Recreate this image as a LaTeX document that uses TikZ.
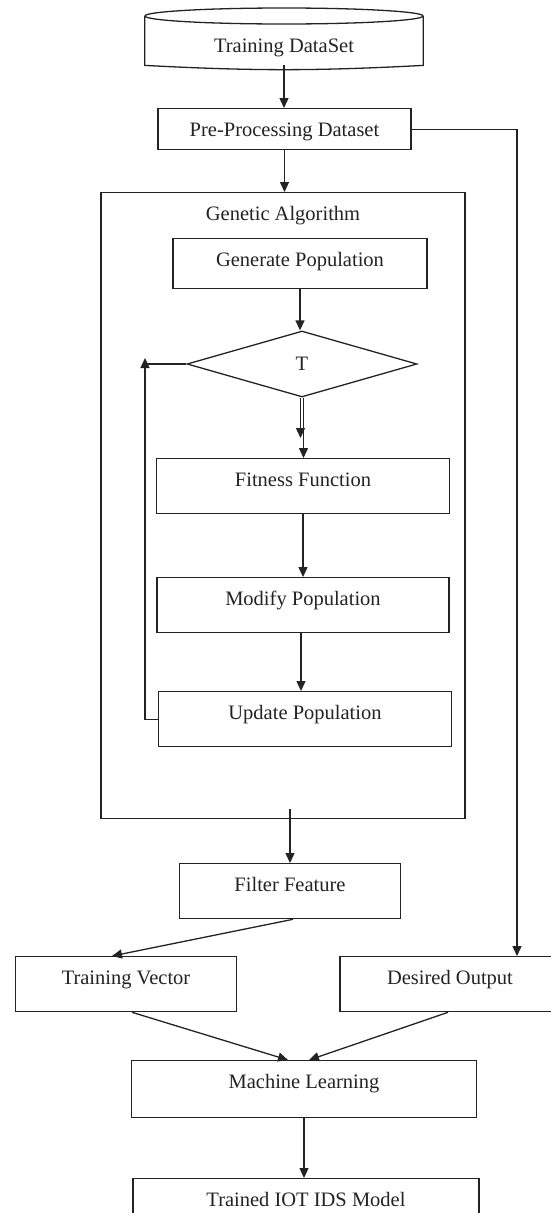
\documentclass[tikz,border=0pt]{standalone}
\usepackage{fontspec}
\setmainfont{Liberation Serif}
\usepackage{xcolor}
\usepackage{tikz}
\usetikzlibrary{arrows.meta, positioning, calc, shapes.geometric}
\definecolor{InkGray}{RGB}{35, 35, 35}

\tikzset{
  flowbox/.style={draw=InkGray, line width=1.3pt, rectangle, inner sep=0pt,
                  text height=28pt, text depth=#1, anchor=north},
  flowbox/.default=27pt,
  arr/.style={draw=InkGray, line width=1.3pt, -{Triangle[length=10pt, width=9pt]}},
  link/.style={draw=InkGray, line width=1.3pt},
}

\begin{document}
\begin{tikzpicture}[x=1pt, y=-1pt, font=\fontsize{20.5}{24}\selectfont, text=InkGray]
        \clip (0,0) rectangle (551,1213);

        \node[inner sep=0pt, minimum width=278pt, text height=36pt, text depth=13pt,
              anchor=north] (data) at (284,16) {Training DataSet};
        \draw[link] (data.north) ellipse [x radius=139pt, y radius=8pt];
        \draw[link] (data.north west) -- (data.south west) to[bend right=3]
              (data.south east) -- (data.north east);

        \node[flowbox=13pt, minimum width=253pt] (prep) at (284.5,108) {Pre-Processing Dataset};

        % genetic algorithm block
        \node[flowbox=598pt, minimum width=364pt] (ga) at (283,192) {Genetic Algorithm};
        \node[flowbox=22pt, minimum width=254pt] (gen) at (300,238) {Generate Population};
        \node[draw=InkGray, line width=1.3pt, diamond, inner sep=0pt,
              minimum width=230pt, minimum height=66pt] (cond) at (302,364) {T};
        \node[flowbox, minimum width=293pt] (fit) at (303,458) {Fitness Function};
        \node[flowbox, minimum width=292pt] (mod) at (303,577) {Modify Population};
        \node[flowbox, minimum width=293pt] (upd) at (305,691) {Update Population};
        \coordinate (back) at (145,358);

        \node[flowbox, minimum width=221pt] (filt) at (290,863) {Filter Feature};
        \node[flowbox, minimum width=221pt] (tvec) at (126,956) {Training Vector};
        \node[flowbox, minimum width=220pt] (dout) at (450,956) {Desired Output};
        \node[flowbox=29pt, minimum width=345pt] (ml) at (304,1060) {Machine Learning};
        \node[flowbox=40pt, minimum width=346pt] (model) at (306,1178) {Trained IOT IDS Model};

        \draw[arr] (data.south) -- (data.south |- prep.north);
        \draw[arr] (prep.south) -- (prep.south |- ga.north);
        \draw[arr] (prep.east) -| ($(dout.north)+(67,0)$);
        \draw[arr] (gen.south) -- (gen.south |- cond.north);
        \draw[arr] ($(cond.south)+(-1.5,0)$) -- ($(cond.south |- fit.north)+(-1.5,-20)$);
        \draw[arr] ($(cond.south)+(1.5,0)$) -- ($(cond.south |- fit.north)+(1.5,0)$);
        \draw[arr] (fit.south) -- (mod.north);
        \draw[arr] ($(mod.south)+(-2,0)$) -- ($(mod.south |- upd.north)+(-2,0)$);
        \draw[arr] (upd.west) -| (back);
        \draw[link] (back |- cond.west) -- (cond.west);
        \draw[arr] ($(ga.south -| filt.north)+(0,-10)$) -- (filt.north);
        \draw[arr] ($(filt.south)+(3,0)$) -- ($(tvec.north)+(-14,0)$);
        \draw[arr] ($(tvec.south)+(6,0)$) -- ($(ml.north)+(-16,0)$);
        \draw[arr] ($(dout.south)+(-2,0)$) -- ($(ml.north)+(5,0)$);
        \draw[arr] (ml.south) -- (ml.south |- model.north);
      \end{tikzpicture}
\end{document}
